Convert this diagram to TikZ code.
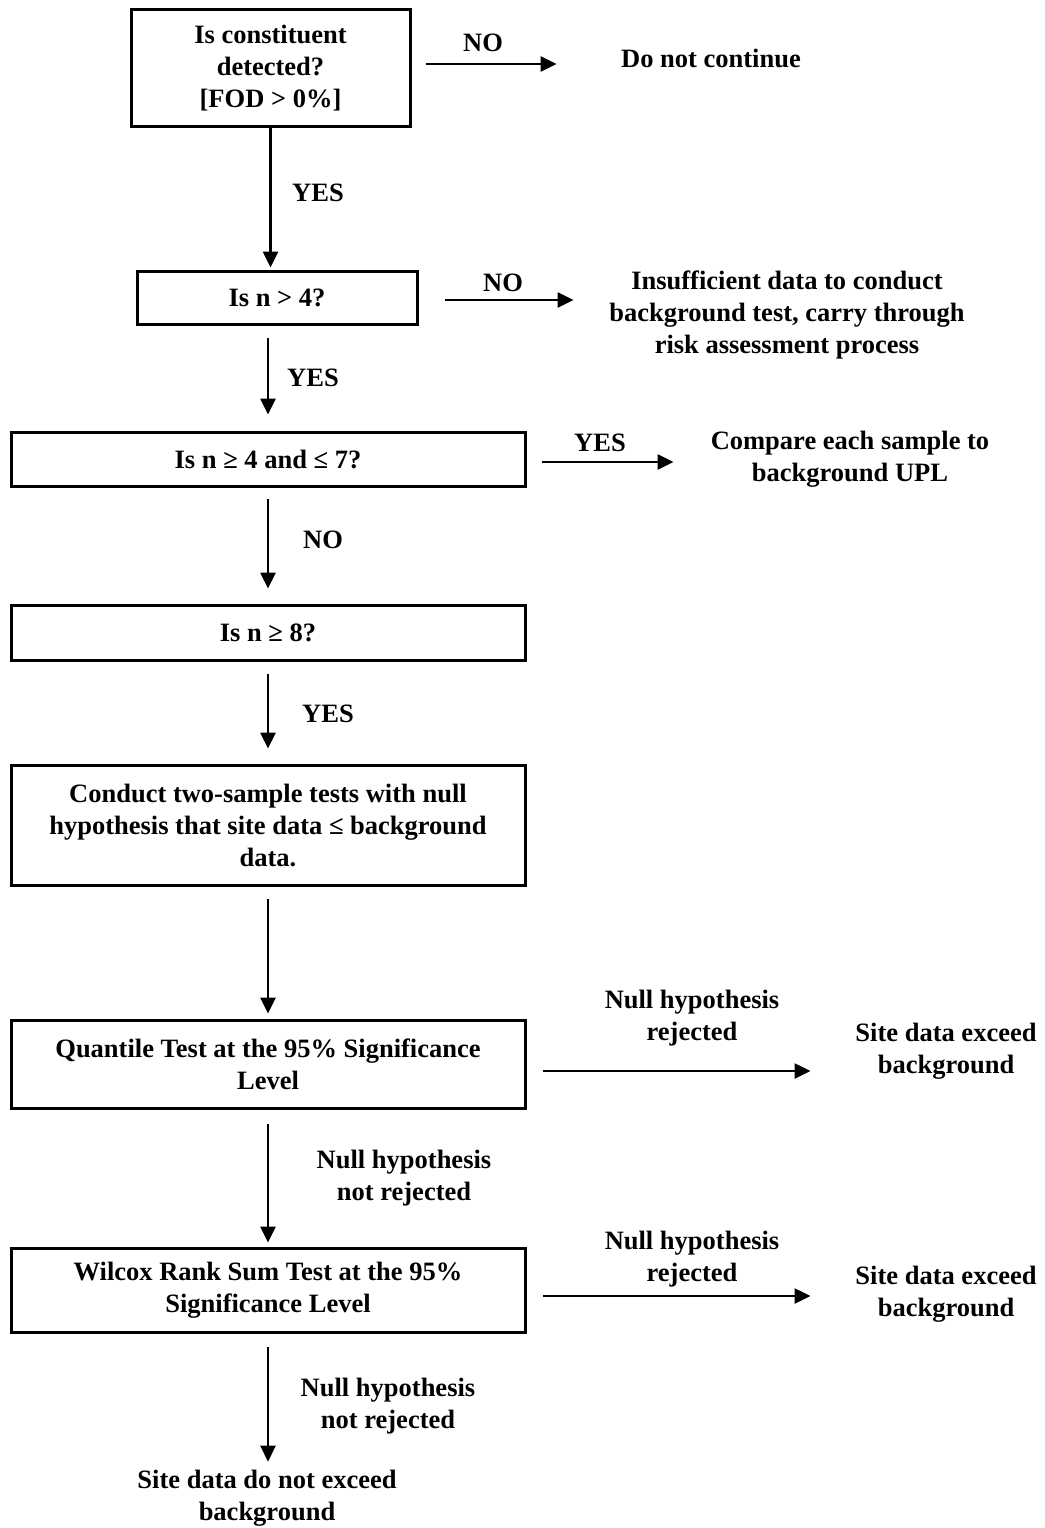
\documentclass[tikz,border=0pt]{standalone}
\usepackage{fontspec}
\setmainfont{Liberation Serif}
\usetikzlibrary{arrows.meta}
\begin{document}
\begin{tikzpicture}[x=1pt,y=-1pt,
  txt/.style={font=\fontsize{26.5}{32}\selectfont\bfseries, align=center, inner sep=0pt},
  box/.style={txt, draw, line width=3pt},
  arr/.style={line width=2.6pt, -{Triangle[length=16pt,width=15pt]}}]
\useasboundingbox (0,0) rectangle (1044,1528);
% boxes
\node[box, minimum width=279pt, minimum height=116pt] (b1) at (270.5,68) {Is constituent\\detected?\\{}[FOD > 0\%]};
\node[box, minimum width=280pt, minimum height=53pt] (b2) at (277,297.5) {Is n > 4?};
\node[box, minimum width=514pt, minimum height=54pt] (b3) at (268,459) {Is n ≥ 4 and ≤ 7?};
\node[box, minimum width=514pt, minimum height=55pt] (b4) at (268,633) {Is n ≥ 8?};
\node[box, minimum width=514pt, minimum height=120pt] (b5) at (268,825) {Conduct two-sample tests with null\\hypothesis that site data ≤ background\\data.};
\node[box, minimum width=514pt, minimum height=88pt] (b6) at (268,1064) {Quantile Test at the 95\% Significance\\Level};
\node[box, minimum width=514pt, minimum height=84pt] (b7) at (268,1290) {Wilcox Rank Sum Test at the 95\%\\Significance Level};
% outcomes
\node[txt] (dnc) at (711,58) {Do not continue};
\node[txt] (ins) at (787,315) {Insufficient data to conduct\\background test, carry through\\risk assessment process};
\node[txt] (cmp) at (850,459) {Compare each sample to\\background UPL};
\node[txt] (ex1) at (946,1051) {Site data exceed\\background};
\node[txt] (ex2) at (946,1294) {Site data exceed\\background};
\node[txt] (sdn) at (267,1498) {Site data do not exceed\\background};
% labels
\node[txt] (l1) at (318,193) {YES};
\node[txt] (l2) at (313,378) {YES};
\node[txt] (l3) at (323,540) {NO};
\node[txt] (l4) at (328,714) {YES};
\node[txt] (l5) at (404,1178) {Null hypothesis\\not rejected};
\node[txt] (l6) at (388,1406) {Null hypothesis\\not rejected};
\node[txt] (n1) at (483,43) {NO};
\node[txt] (n2) at (503,283) {NO};
\node[txt] (y3) at (600,443) {YES};
\node[txt] (r1) at (692,1018) {Null hypothesis\\rejected};
\node[txt] (r2) at (692,1259) {Null hypothesis\\rejected};
% vertical connectors
\draw[arr, shorten >=2pt] (b1.south) -- (b1.south |- b2.north);
\draw[arr, shorten <=12.5pt, shorten >=16pt] (b3.north |- b2.south) -- (b3.north);
\draw[arr, shorten <=11pt, shorten >=15.5pt] (b3.south) -- (b4.north);
\draw[arr, shorten <=11.5pt, shorten >=15pt] (b4.south) -- (b5.north);
\draw[arr, shorten <=12pt, shorten >=5pt] (b5.south) -- (b6.north);
\draw[arr, shorten <=14pt, shorten >=4pt] (b6.south) -- (b7.north);
\draw[arr, shorten <=13pt, shorten >=8pt] (b7.south) -- (b7.south |- sdn.north);
% horizontal connectors
\draw[arr, shorten <=14pt] ([yshift=4pt]b1.east) -- ++(145,0);
\draw[arr, shorten <=26pt] ([yshift=-2.5pt]b2.east) -- ++(155,0);
\draw[arr, shorten <=15pt] ([yshift=-3pt]b3.east) -- ++(147,0);
\draw[arr, shorten <=16pt] ([yshift=-7pt]b6.east) -- ++(284,0);
\draw[arr, shorten <=16pt] ([yshift=-6pt]b7.east) -- ++(284,0);
\end{tikzpicture}
\end{document}
